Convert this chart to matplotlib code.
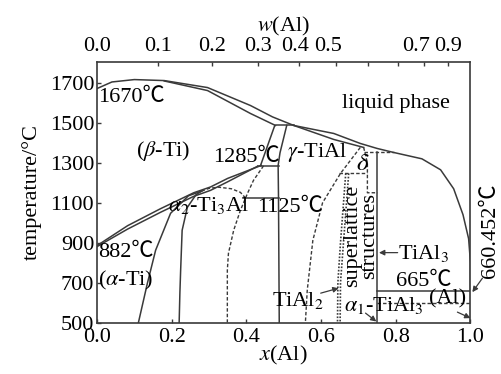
import numpy as np
import matplotlib
matplotlib.use('Agg')
import matplotlib.pyplot as plt

plt.rcParams['font.family'] = ['Liberation Serif', 'Noto Sans CJK SC', 'DejaVu Serif']
plt.rcParams['mathtext.fontset'] = 'stix'
plt.rcParams['font.size'] = 16

LC = '#3a3a3a'

# --- solid phase boundaries (x(Al), T in degC) ---
liq_x = [0, 0.04, 0.1, 0.18, 0.296, 0.411, 0.47, 0.527, 0.634, 0.705, 0.75, 0.794,
         0.87, 0.92, 0.955, 0.98, 0.995, 1.0, 1.0]
liq_T = [1672, 1705, 1717, 1712, 1677, 1587, 1530, 1487, 1447, 1397, 1372, 1352,
         1320, 1265, 1170, 1040, 920, 800, 660]
beta_sol_x = [0.18, 0.296, 0.411, 0.478]
beta_sol_T = [1710, 1662, 1547, 1487]
perit_x = [0.478, 0.527]
perit_T = [1487, 1487]
alpha_sol_x = [0.527, 0.634, 0.714]
alpha_sol_T = [1487, 1417, 1377]
lineA_x = [0.476, 0.438]
lineA_T = [1487, 1287]
lineB_x = [0.508, 0.49, 0.485, 0.486, 0.488]
lineB_T = [1487, 1350, 1287, 1127, 500]
h1285_x = [0.43, 0.487]
h1285_T = [1285, 1285]
beta_up_x = [0, 0.082, 0.17, 0.259, 0.304, 0.35, 0.44]
beta_up_T = [885, 985, 1070, 1150, 1179, 1222, 1287]
beta_lo_x = [0, 0.082, 0.17, 0.259, 0.304, 0.35, 0.43]
beta_lo_T = [880, 968, 1052, 1132, 1162, 1205, 1283]
alpha_x = [0.111, 0.135, 0.157, 0.197, 0.245, 0.28]
alpha_T = [500, 697, 862, 1047, 1135, 1158]
a2_left_x = [0.22, 0.222, 0.224, 0.228, 0.242, 0.265, 0.28]
a2_left_T = [500, 650, 762, 962, 1077, 1140, 1158]
h1125_x = [0.392, 0.486]
h1125_T = [1125, 1125]
tial3_x = [0.751, 0.751]
tial3_T = [1352, 500]
h665_x = [0.751, 1.0]
h665_T = [658, 658]

# --- dashed boundaries ---
dome_x = [0.28, 0.3, 0.325, 0.36, 0.384, 0.397]
dome_T = [1158, 1172, 1178, 1170, 1152, 1125]
a2_right_x = [0.446, 0.419, 0.403, 0.384, 0.366, 0.352, 0.349, 0.349]
a2_right_T = [1285, 1212, 1147, 1062, 962, 847, 762, 500]
gam_right_x = [0.705, 0.652, 0.604, 0.578, 0.563, 0.558]
gam_right_T = [1377, 1247, 1100, 912, 662, 500]
delta_top_x = [0.714, 0.794]
delta_top_T = [1352, 1352]
delta_r_x = [0.714, 0.724, 0.724, 0.751]
delta_r_T = [1377, 1300, 1150, 1150]
h1247_x = [0.647, 0.724]
h1247_T = [1247, 1247]
h600_x = [0.751, 1.0]
h600_T = [597, 597]

# --- dotted superlattice lines ---
sl1_x = [0.666, 0.652, 0.645, 0.644]
sl2_x = [0.674, 0.660, 0.652, 0.651]
sl_T = [1247, 900, 700, 500]

# top axis: weight fraction of Al
w_ticks = [0.0, 0.1, 0.2, 0.3, 0.4, 0.5, 0.6, 0.7, 0.8, 0.9]
w_labels = ['0.0', '0.1', '0.2', '0.3', '0.4', '0.5', '0.7', '0.9']
w_label_pos = [0.0, 0.1647, 0.3073, 0.432, 0.531, 0.62, 0.853, 0.941]


def w_to_x(w):
    w = np.asarray(w)
    return (w / 26.98) / (w / 26.98 + (1 - w) / 47.87)


fig = plt.figure(figsize=(5.02, 3.74), dpi=100)
ax = fig.add_axes([0.1932, 0.1377, 0.744, 0.6965])

solid = [(liq_x, liq_T), (beta_sol_x, beta_sol_T), (perit_x, perit_T),
         (alpha_sol_x, alpha_sol_T), (lineA_x, lineA_T), (lineB_x, lineB_T),
         (h1285_x, h1285_T), (beta_up_x, beta_up_T), (beta_lo_x, beta_lo_T),
         (alpha_x, alpha_T), (a2_left_x, a2_left_T), (h1125_x, h1125_T),
         (tial3_x, tial3_T), (h665_x, h665_T)]
for xs, ts in solid:
    ax.plot(xs, ts, color=LC, lw=1.1)

dashed = [(dome_x, dome_T), (a2_right_x, a2_right_T), (gam_right_x, gam_right_T),
          (delta_top_x, delta_top_T), (delta_r_x, delta_r_T), (h1247_x, h1247_T),
          (h600_x, h600_T)]
for xs, ts in dashed:
    ax.plot(xs, ts, color=LC, lw=1.0, ls=(0, (2.5, 1.5)))

for xs in (sl1_x, sl2_x):
    ax.plot(xs, sl_T, color=LC, lw=1.2, ls=(0, (1, 1)))

ax.set_xlim(0, 1.0)
ax.set_ylim(500, 1805)
ax.set_xticks([0.0, 0.2, 0.4, 0.6, 0.8, 1.0])
ax.set_xticklabels(['0.0', '0.2', '0.4', '0.6', '0.8', '1.0'])
ax.set_yticks([500, 700, 900, 1100, 1300, 1500, 1700])
ax.tick_params(direction='in', length=3, width=1, color=LC, pad=2, labelsize=16)
ax.tick_params(axis='x', pad=4)
for s in ax.spines.values():
    s.set_color(LC)
    s.set_linewidth(1.2)

ax.set_xlabel(r'$x$(Al)', fontsize=16, labelpad=-2)
ax.set_ylabel('temperature/°C', fontsize=16, labelpad=6)

top = ax.twiny()
top.set_xlim(ax.get_xlim())
top.set_xticks(w_to_x(w_ticks), minor=True)
top.set_xticks(w_label_pos)
top.set_xticklabels(w_labels)
top.tick_params(which='minor', direction='in', length=3, width=1, color=LC)
top.tick_params(which='major', length=0, pad=4, labelsize=16)
top.set_xlabel(r'$w$(Al)', fontsize=16, labelpad=4)
for s in top.spines.values():
    s.set_visible(False)

# labels
fs = 16
ax.text(0.004, 1627, '1670℃', fontsize=fs, ha='left', va='center')
ax.text(0.655, 1597, 'liquid phase', fontsize=fs, ha='left', va='center')
ax.text(0.176, 1357, r'($\beta$-Ti)', fontsize=fs, ha='center', va='center')
ax.text(0.49, 1327, '1285℃', fontsize=fs, ha='right', va='center')
ax.text(0.59, 1352, r'$\gamma$-TiAl', fontsize=fs, ha='center', va='center')
ax.text(0.711, 1292, r'$\delta$', fontsize=fs + 2, ha='center', va='center')
ax.text(0.19, 1087, r'$\alpha_2$-Ti$_3$Al', fontsize=fs, ha='left', va='center')
ax.text(0.43, 1077, '1125℃', fontsize=fs, ha='left', va='center')
ax.text(0.004, 852, '882℃', fontsize=fs, ha='left', va='center')
ax.text(0.003, 712, r'($\alpha$-Ti)', fontsize=fs, ha='left', va='center')
ax.text(0.707, 935, 'superlattice\nstructures', fontsize=fs, rotation=90,
        ha='center', va='center', multialignment='center', linespacing=0.85)
ax.text(0.805, 847, 'TiAl$_3$', fontsize=fs, ha='left', va='center')
ax.text(0.875, 707, '665℃', fontsize=fs, ha='center', va='center')
ax.text(1.054, 962, '660.452℃', fontsize=fs, rotation=90, ha='center', va='center',
        clip_on=False)
ax.text(0.537, 612, 'TiAl$_2$', fontsize=fs, ha='center', va='center')
ax.text(0.767, 587, r'$\alpha_1$-TiAl$_3$', fontsize=fs, ha='center', va='center')
ax.text(0.938, 617, '(Al)', fontsize=fs, ha='center', va='center')

arrow = dict(arrowstyle='-|>', lw=0.9, color=LC, mutation_scale=8, shrinkA=0, shrinkB=0)
ax.annotate('', xy=(0.755, 850), xytext=(0.805, 850), arrowprops=arrow)
ax.annotate('', xy=(1.005, 652), xytext=(1.032, 722), arrowprops=arrow,
            annotation_clip=False)
ax.annotate('', xy=(0.647, 672), xytext=(0.599, 647), arrowprops=arrow)
ax.annotate('', xy=(0.748, 505), xytext=(0.719, 547), arrowprops=arrow)
ax.annotate('', xy=(1.0, 522), xytext=(0.965, 552), arrowprops=arrow)

fig.savefig('out.png', dpi=100, facecolor='white')
